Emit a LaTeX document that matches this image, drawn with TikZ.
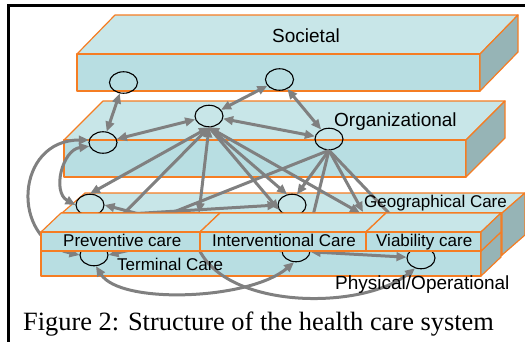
\documentclass[tikz,border=0pt]{standalone}
\usepackage{fontspec}
\setmainfont{Liberation Serif}
\newfontfamily\labelfont{Liberation Sans}
\usetikzlibrary{arrows.meta,shapes.geometric}

\definecolor{slabtop}{RGB}{200,230,232}
\definecolor{slabfront}{RGB}{184,222,226}
\definecolor{slabside}{RGB}{150,180,182}
\definecolor{slabedge}{RGB}{245,125,35}
\definecolor{linkgrey}{RGB}{128,128,128}

% A slab seen from the front: top, front and right faces.
% #1 left x, #2 right x, #3 top y, #4 bottom y, #5 depth shift x, #6 depth shift y (upwards)
\newcommand\drawslab[6]{%
  \filldraw[face, fill=slabtop] (#1,#3) -- (#2,#3) -- (#2+#5,#3-#6) -- (#1+#5,#3-#6) -- cycle;
  \filldraw[face, fill=slabfront] (#1,#3) rectangle (#2,#4);
  \filldraw[face, fill=slabside] (#2,#3) -- (#2+#5,#3-#6) -- (#2+#5,#4-#6) -- (#2,#4) -- cycle;
}

\begin{document}
\begin{tikzpicture}[x=1pt, y=-1pt,
  >={Triangle[length=10pt,width=8.5pt]},
  face/.style={draw=slabedge, line width=1.2pt, line join=round},
  hub/.style={ellipse, draw=black, line width=1.1pt, minimum width=28pt,
              minimum height=21.5pt, inner sep=0pt},
  link/.style={draw=linkgrey, line width=3pt},
  tag/.style={inner sep=0pt, anchor=base west, font=\labelfont\fontsize{17pt}{17pt}\selectfont},
  bigtag/.style={tag, font=\labelfont\fontsize{19pt}{19pt}\selectfont},
  capt/.style={inner sep=0pt, anchor=base west, font=\fontsize{26.4pt}{26.4pt}\selectfont}]

\useasboundingbox (0,0) rectangle (525,341);

% frame
\draw[line width=2.6pt] (530,5.3) -- (8.7,5.3) -- (8.7,346);

% back layers
\drawslab{77}{480}{54}{91}{38}{39}
\drawslab{64}{466}{140}{177}{39}{39}
\drawslab{62}{502}{213}{255}{23}{20}
\drawslab{41}{481}{251}{276}{20}{19}

% actors
\node[hub] (SocL)  at (123.5,82.5) {};
\node[hub] (SocR)  at (279.5,79.5) {};
\node[hub] (OrgL)  at (103,142.5) {};
\node[hub] (OrgC)  at (209,116) {};
\node[hub] (OrgR)  at (329,139) {};
\node[hub] (GeoL)  at (90,205) {};
\node[hub] (GeoM)  at (292,205) {};
\node[hub] (TermL) at (94,255) {};
\node[hub] (TermM) at (296,251) {};
\node[hub] (ViaC)  at (421,258) {};

\coordinate (downA) at (199,213);
\coordinate (geoA) at (360,213);
\coordinate (geoB) at (363,212);
\coordinate (loopStart) at (195,238);

% societal / organizational links
\draw[link,<->] (SocL) -- (OrgL);
\draw[link,<->] (SocR) -- (OrgC);
\draw[link,<->] (SocR) -- (OrgR);
\draw[link,<->] (OrgC) -- (OrgL);
\draw[link,<->] (OrgC) -- (OrgR);

% left loops
\draw[link,<->] (OrgL.195) .. controls (62,150) and (52,192) .. (GeoL.west);
\draw[link,<->] (OrgL.170) .. controls (15,140) and (10,240) .. (TermL.west);

% fan from the central organization
\draw[link,<->] (OrgC.south) -- (GeoL.north);
\draw[link,<->] (OrgC.south) -- (TermL.north);
\draw[link,<->] (OrgC.south) -- (downA);
\draw[link,->] (OrgC.south) -- (GeoM.200);
\draw[link,->] (OrgC.south) -- (GeoM.115);
\draw[link,<->] (OrgC.south) -- (geoA);

% fan from the right organization
\draw[link,->] (OrgR.south) -- (TermL.north);
\draw[link,->] (OrgR.south) -- (GeoM.65);
\draw[link,->] (OrgR.south) -- (TermM.north east);
\draw[link,->] (OrgR.south) -- (geoB);
\draw[link,->] (OrgR.south) -- (ViaC.north);

% lower links
\draw[link,->] (GeoL.south) -- (GeoM.west);
\draw[link,->] (TermM.west) -- (GeoL.east);
\draw[link,->] (GeoM.230) -- (TermL.east);
\draw[link,<->] (TermL.-80) .. controls (120,305) and (250,300) .. (TermM.-100);
\draw[link,<->] (TermM) -- (ViaC);
\draw[link,->] (loopStart) .. controls (212,310) and (360,312) .. (ViaC.-120);

% front care blocks
\drawslab{41}{200}{232}{251}{20}{19}
\drawslab{200}{366}{232}{251}{20}{19}
\drawslab{366}{481}{232}{251}{20}{19}

% labels
\node[bigtag] (lSoc)  at (272,42)  {Societal};
\node[bigtag] (lOrg)  at (334,126) {Organizational};
\node[tag]    (lGeo)  at (364,207) {Geographical Care};
\node[tag]    (lPrev) at (63,246)  {Preventive care};
\node[tag]    (lInt)  at (212,246) {Interventional Care};
\node[tag]    (lVia)  at (376,246) {Viability care};
\node[tag]    (lTerm) at (117,270) {Terminal Care};
\node[bigtag] (lPhys) at (335,289) {Physical/Operational};
\node[capt]   (caption) at (23,330) {Figure 2: Structure of the health care system};
\end{tikzpicture}
\end{document}
